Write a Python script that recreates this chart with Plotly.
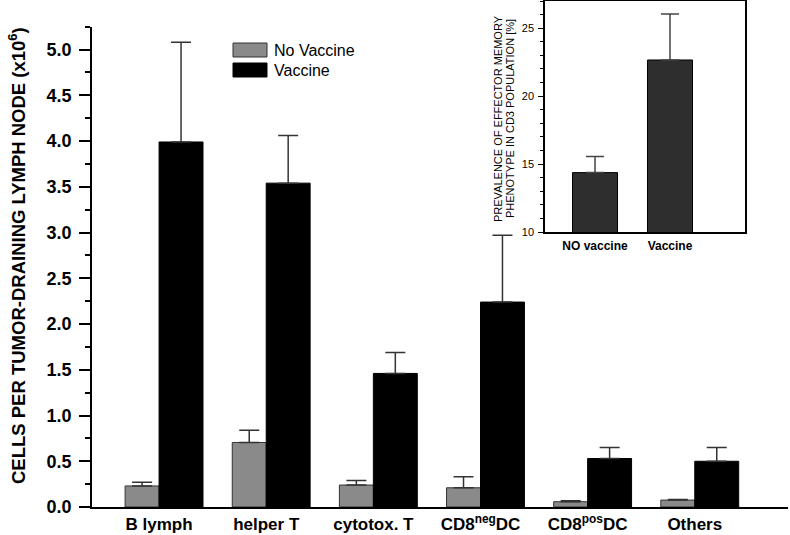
import plotly.graph_objects as go

categories = ["B lymph", "helper T", "cytotox. T", "CD8<sup>neg</sup>DC", "CD8<sup>pos</sup>DC", "Others"]
no_vaccine = [0.23, 0.705, 0.24, 0.21, 0.058, 0.076]
no_vaccine_err = [0.04, 0.135, 0.05, 0.12, 0.01, 0.006]
vaccine = [3.99, 3.54, 1.46, 2.24, 0.53, 0.50]
vaccine_err = [1.09, 0.52, 0.23, 0.73, 0.12, 0.15]

inset_categories = ["NO vaccine", "Vaccine"]
inset_values = [14.37, 22.66]
inset_err = [1.19, 3.39]

W, H = 790, 535
ML, MR, MT, MB = 92, 2, 1, 28
PW, PH = W - ML - MR, H - MT - MB
FONT = "Liberation Sans, Arial, Helvetica, sans-serif"


def px_x(x):
    return (x - ML) / PW


def px_y(y):
    return (H - MB - y) / PH


fig = go.Figure()
fig.add_trace(go.Bar(
    x=categories, y=no_vaccine, name="No Vaccine",
    offset=-0.317, width=0.317,
    marker=dict(color="#8a8a8a", line=dict(color="#333333", width=1)),
    error_y=dict(type="data", array=no_vaccine_err, arrayminus=[0] * 6, symmetric=False,
                 color="#333333", thickness=1.5, width=10),
    showlegend=False,
))
fig.add_trace(go.Bar(
    x=categories, y=vaccine, name="Vaccine",
    offset=0, width=0.41,
    marker=dict(color="#000000", line=dict(color="#000000", width=1)),
    error_y=dict(type="data", array=vaccine_err, arrayminus=[0] * 6, symmetric=False,
                 color="#333333", thickness=1.5, width=10),
    showlegend=False,
))
fig.add_trace(go.Bar(
    x=inset_categories, y=inset_values, xaxis="x2", yaxis="y2",
    width=0.6,
    marker=dict(color="#2e2e2e", line=dict(color="#000000", width=1)),
    error_y=dict(type="data", array=inset_err, arrayminus=[0, 0], symmetric=False,
                 color="#444444", thickness=1.5, width=9),
    showlegend=False,
))

fig.update_layout(
    template="none",
    width=W, height=H,
    margin=dict(l=ML, r=MR, t=MT, b=MB, pad=0, autoexpand=False),
    paper_bgcolor="white", plot_bgcolor="rgba(0,0,0,0)",
    barmode="overlay",
    showlegend=False,
    font=dict(family=FONT, color="black"),
    xaxis=dict(
        domain=[0, 1], range=[-0.626, 5.87], automargin=False,
        showline=True, linecolor="black", linewidth=1.5,
        ticks="", ticklen=0, showgrid=False, zeroline=False,
        tickfont=dict(size=17, family=FONT, weight="bold"),
        ticklabelstandoff=1,
    ),
    yaxis=dict(
        domain=[0, px_y(26.7)], range=[0, 5.25], automargin=False,
        showline=True, linecolor="black", linewidth=1.5,
        ticks="outside", ticklen=11, tickwidth=1.5, tickcolor="black",
        dtick=0.5, tick0=0, tickformat=".1f",
        minor=dict(dtick=0.25, ticks="outside", ticklen=5, tickwidth=1.5, tickcolor="black", showgrid=False),
        showgrid=False, zeroline=False,
        tickfont=dict(size=18, family=FONT, weight="bold"),
        ticklabelstandoff=4,
    ),
    xaxis2=dict(
        domain=[px_x(545), px_x(745)], anchor="y2", range=[-0.667, 2.0], automargin=False,
        showline=True, linecolor="black", linewidth=1.5, mirror=True,
        ticks="", ticklen=0, showgrid=False, zeroline=False,
        tickfont=dict(size=12, family=FONT, weight="bold"),
        ticklabelstandoff=2,
    ),
    yaxis2=dict(
        domain=[px_y(232), 1.0], anchor="x2", range=[10, 27], automargin=False,
        showline=True, linecolor="black", linewidth=1.5, mirror=True,
        ticks="outside", ticklen=5, tickwidth=1, tickcolor="black",
        tickvals=[10, 15, 20, 25],
        minor=dict(dtick=1, ticks="outside", ticklen=3, tickwidth=1, tickcolor="black", showgrid=False),
        showgrid=False, zeroline=False,
        tickfont=dict(size=11, family=FONT),
        ticklabelstandoff=2,
    ),
)

# main y-axis title
fig.add_annotation(
    xref="paper", yref="paper", x=px_x(17), y=px_y(256),
    text="CELLS PER TUMOR-DRAINING LYMPH NODE (x10<sup>6</sup>)",
    textangle=-90, showarrow=False,
    font=dict(size=18.5, family=FONT, weight="bold"),
    xanchor="center", yanchor="middle",
)
# inset y-axis title (two lines)
fig.add_annotation(
    xref="paper", yref="paper", x=px_x(498), y=px_y(119),
    text="PREVALENCE OF EFFECTOR MEMORY", textangle=-90, showarrow=False,
    font=dict(size=11, family=FONT), xanchor="center", yanchor="middle",
)
fig.add_annotation(
    xref="paper", yref="paper", x=px_x(510), y=px_y(119),
    text="PHENOTYPE IN CD3 POPULATION [%]", textangle=-90, showarrow=False,
    font=dict(size=11, family=FONT), xanchor="center", yanchor="middle",
)

# legend (custom)
legend_items = [("No Vaccine", "#8a8a8a", "#333333", 50), ("Vaccine", "#000000", "#000000", 70)]
for label, fill, edge, cy in legend_items:
    fig.add_shape(type="rect", xref="paper", yref="paper",
                  x0=px_x(233), x1=px_x(267), y0=px_y(cy - 7), y1=px_y(cy + 7),
                  fillcolor=fill, line=dict(color=edge, width=1))
    fig.add_annotation(xref="paper", yref="paper", x=px_x(272), y=px_y(cy),
                       text=label, showarrow=False, xanchor="left", yanchor="middle",
                       font=dict(size=16, family=FONT))

fig.write_html("out.html", config={"displayModeBar": False},
               post_script="document.body.style.margin='0';")
